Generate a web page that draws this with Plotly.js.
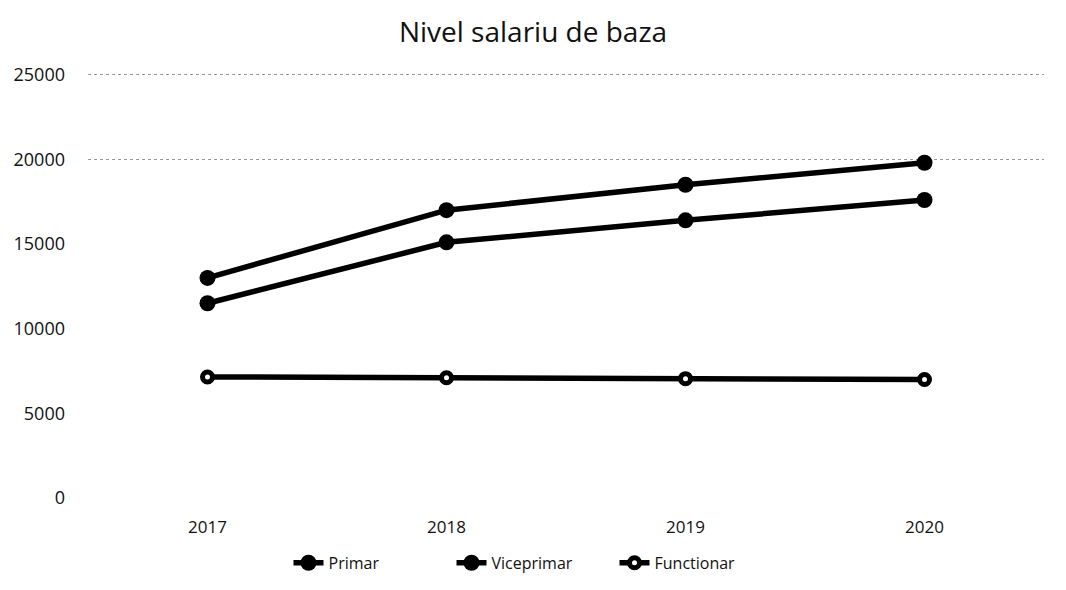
<!DOCTYPE html>
<html>
<head>
<meta charset="utf-8">
<script src="https://cdn.plot.ly/plotly-3.0.1.min.js"></script>
<style>html,body{margin:0;padding:0;background:#fff;}#chart{width:1066px;height:590px;}</style>
</head>
<body>
<div id="chart"></div>
<script>
const years = ['2017', '2018', '2019', '2020'];
const primar = [13000, 17000, 18500, 19800];
const viceprimar = [11500, 15100, 16400, 17600];
const functionar = [7150, 7100, 7050, 7000];
const yTicks = [0, 5000, 10000, 15000, 20000, 25000];
const gridTicks = [20000, 25000];

const FONT = 'Open Sans, Noto Sans, sans-serif';

const lineStyle = {color: '#000', width: 5.5};
const traces = [
  {x: years, y: primar, name: 'Primar', type: 'scatter', mode: 'lines+markers',
   line: lineStyle, marker: {symbol: 'circle', size: 16, color: '#000'}},
  {x: years, y: viceprimar, name: 'Viceprimar', type: 'scatter', mode: 'lines+markers',
   line: lineStyle, marker: {symbol: 'circle', size: 16, color: '#000'}},
  {x: years, y: functionar, name: 'Functionar', type: 'scatter', mode: 'lines+markers',
   line: lineStyle, marker: {symbol: 'circle', size: 10, color: '#fff', line: {color: '#000', width: 5}}},
  {x: years, y: [null, null, null, null], yaxis: 'y2', showlegend: false, hoverinfo: 'skip', type: 'scatter', mode: 'lines'}
];

const layout = {
  width: 1066, height: 590,
  paper_bgcolor: '#fff', plot_bgcolor: '#fff',
  margin: {l: 88, r: 22, t: 73, b: 92},
  title: {text: 'Nivel salariu de baza', font: {family: FONT, size: 28, color: '#111'}, x: 0.5, xref: 'container', y: 0.946, yref: 'container', yanchor: 'middle'},
  font: {family: FONT, size: 16, color: '#111'},
  xaxis: {type: 'category', range: [-0.5, 3.5], showgrid: false, zeroline: false, showline: false,
          ticks: '', ticklabelstandoff: 17, tickfont: {family: FONT, size: 17, color: '#111'}},
  yaxis: {range: [0, 25100], tickvals: yTicks, ticktext: yTicks.map(String), showgrid: false, zeroline: false,
          showline: false, ticks: '', ticklabelstandoff: 22, tickfont: {family: FONT, size: 18, color: '#111'}},
  yaxis2: {overlaying: 'y', range: [0, 25100], tickvals: gridTicks, showticklabels: false, showgrid: true,
           gridcolor: '#999', griddash: 'dot', gridwidth: 1.5, zeroline: false, showline: false, ticks: ''},
  showlegend: true,
  legend: {orientation: 'h', x: 0.5, xref: 'container', xanchor: 'center', y: 0.046, yref: 'container', yanchor: 'middle',
           font: {family: FONT, size: 16, color: '#111'}, entrywidth: 118, entrywidthmode: 'pixels', traceorder: 'normal'}
};

Plotly.newPlot('chart', traces, layout, {displayModeBar: false, staticPlot: true});
</script>
</body>
</html>
